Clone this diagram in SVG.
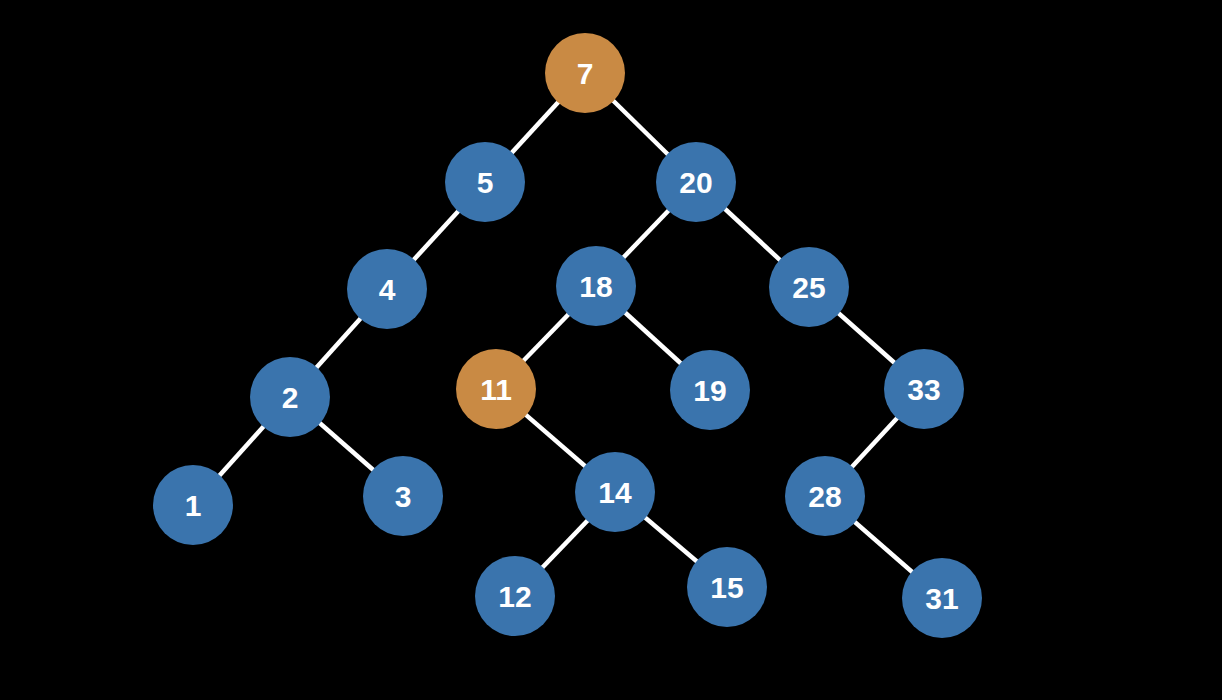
<svg xmlns="http://www.w3.org/2000/svg" width="1222" height="700" viewBox="0 0 1222 700">
<style>
.e{stroke:#ffffff;stroke-width:4.5;fill:none}
.b{fill:#3a74ad}
.o{fill:#c98a44}
.t{fill:#ffffff;font-family:"Liberation Sans",Arial,sans-serif;font-weight:bold;font-size:30px;text-anchor:middle}
</style>
<rect x="0" y="0" width="1222" height="700" fill="#000000"/>
<g id="edges">
<line class="e" x1="585" y1="73" x2="485" y2="182"/>
<line class="e" x1="585" y1="73" x2="696" y2="182"/>
<line class="e" x1="485" y1="182" x2="387" y2="289"/>
<line class="e" x1="387" y1="289" x2="290" y2="397"/>
<line class="e" x1="290" y1="397" x2="193" y2="505"/>
<line class="e" x1="290" y1="397" x2="403" y2="496"/>
<line class="e" x1="696" y1="182" x2="596" y2="286"/>
<line class="e" x1="696" y1="182" x2="809" y2="287"/>
<line class="e" x1="596" y1="286" x2="496" y2="389"/>
<line class="e" x1="596" y1="286" x2="710" y2="390"/>
<line class="e" x1="496" y1="389" x2="615" y2="492"/>
<line class="e" x1="615" y1="492" x2="515" y2="596"/>
<line class="e" x1="615" y1="492" x2="727" y2="587"/>
<line class="e" x1="809" y1="287" x2="924" y2="389"/>
<line class="e" x1="924" y1="389" x2="825" y2="496"/>
<line class="e" x1="825" y1="496" x2="942" y2="598"/>
</g>
<g id="n7"><circle class="o" cx="585" cy="73" r="40"/><text class="t" x="585" y="84">7</text></g>
<g id="n5"><circle class="b" cx="485" cy="182" r="40"/><text class="t" x="485" y="193">5</text></g>
<g id="n20"><circle class="b" cx="696" cy="182" r="40"/><text class="t" x="696" y="193">20</text></g>
<g id="n4"><circle class="b" cx="387" cy="289" r="40"/><text class="t" x="387" y="300">4</text></g>
<g id="n18"><circle class="b" cx="596" cy="286" r="40"/><text class="t" x="596" y="297">18</text></g>
<g id="n25"><circle class="b" cx="809" cy="287" r="40"/><text class="t" x="809" y="298">25</text></g>
<g id="n2"><circle class="b" cx="290" cy="397" r="40"/><text class="t" x="290" y="408">2</text></g>
<g id="n11"><circle class="o" cx="496" cy="389" r="40"/><text class="t" x="496" y="400">11</text></g>
<g id="n19"><circle class="b" cx="710" cy="390" r="40"/><text class="t" x="710" y="401">19</text></g>
<g id="n33"><circle class="b" cx="924" cy="389" r="40"/><text class="t" x="924" y="400">33</text></g>
<g id="n1"><circle class="b" cx="193" cy="505" r="40"/><text class="t" x="193" y="516">1</text></g>
<g id="n3"><circle class="b" cx="403" cy="496" r="40"/><text class="t" x="403" y="507">3</text></g>
<g id="n14"><circle class="b" cx="615" cy="492" r="40"/><text class="t" x="615" y="503">14</text></g>
<g id="n28"><circle class="b" cx="825" cy="496" r="40"/><text class="t" x="825" y="507">28</text></g>
<g id="n12"><circle class="b" cx="515" cy="596" r="40"/><text class="t" x="515" y="607">12</text></g>
<g id="n15"><circle class="b" cx="727" cy="587" r="40"/><text class="t" x="727" y="598">15</text></g>
<g id="n31"><circle class="b" cx="942" cy="598" r="40"/><text class="t" x="942" y="609">31</text></g>
</svg>
